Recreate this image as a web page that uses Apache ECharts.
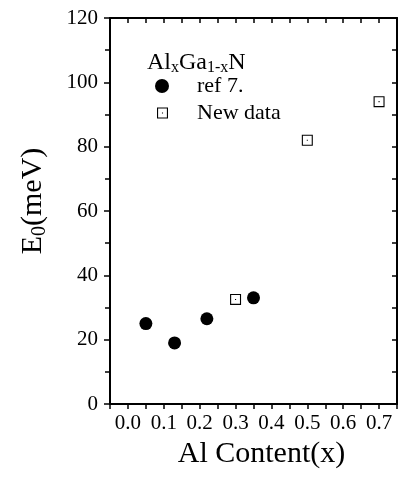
<!DOCTYPE html>
<html>
<head>
<meta charset="utf-8">
<script src="https://cdn.jsdelivr.net/npm/echarts@6/dist/echarts.min.js"></script>
<style>html,body{margin:0;padding:0;background:#fff;}#c{width:400px;height:479px;}</style>
</head>
<body>
<div id="c"></div>
<script>
// Data
const refX = [0.05, 0.13, 0.22, 0.35];
const refY = [25, 19, 26.5, 33];
const newX = [0.30, 0.50, 0.70];
const newY = [32.5, 82, 94];
const xTickLabels = ['0.0', '0.1', '0.2', '0.3', '0.4', '0.5', '0.6', '0.7'];
const yTickLabels = ['0', '20', '40', '60', '80', '100', '120'];

const FONT = "'Liberation Serif', 'Times New Roman', serif";
const squarePath = 'path://M0,0 L10,0 L10,10 L0,10 Z M1,1 L1,9 L9,9 L9,1 Z M4.5,4.5 L5.5,4.5 L5.5,5.5 L4.5,5.5 Z';

const chart = echarts.init(document.getElementById('c'), null, {renderer: 'canvas'});

function xLabel(v) {
  const k = Math.round(v * 100);
  if (k % 10 !== 0) return '';
  const s = (k / 100).toFixed(1);
  return xTickLabels.indexOf(s) >= 0 ? s : '';
}
function yLabel(v) {
  const s = String(Math.round(v));
  return yTickLabels.indexOf(s) >= 0 ? s : '';
}

const axisLine = {show: true, onZero: false, lineStyle: {color: '#000', width: 2}};
const tickStyle = {color: '#000', width: 1.5};

chart.setOption({
  animation: false,
  backgroundColor: '#fff',
  grid: {left: 110, right: 2, top: 18, bottom: 75, containLabel: false},
  xAxis: [{
    type: 'value', position: 'bottom', min: -0.05, max: 0.75, interval: 0.05,
    axisLine: axisLine,
    axisTick: {show: true, inside: false, length: 5, lineStyle: tickStyle},
    axisLabel: {formatter: xLabel, color: '#000', fontFamily: FONT, fontSize: 21, margin: 9, showMinLabel: true, showMaxLabel: true},
    splitLine: {show: false},
    name: 'Al Content(x)', nameLocation: 'middle', nameGap: 30,
    nameTextStyle: {fontFamily: FONT, fontSize: 30, color: '#000', padding: [0, 0, 0, 16]}
  }, {
    type: 'value', position: 'top', min: -0.05, max: 0.75, interval: 0.05,
    axisLine: axisLine,
    axisTick: {show: true, inside: true, length: 5, lineStyle: tickStyle},
    axisLabel: {show: false},
    splitLine: {show: false}
  }],
  yAxis: [{
    type: 'value', position: 'left', min: 0, max: 120, interval: 20,
    axisLine: axisLine,
    axisTick: {show: true, inside: false, length: 6, lineStyle: tickStyle},
    minorTick: {show: true, splitNumber: 2, length: 5, lineStyle: tickStyle},
    axisLabel: {formatter: yLabel, color: '#000', fontFamily: FONT, fontSize: 21, margin: 12},
    splitLine: {show: false},
    name: '{n|E}{s|0}{n|(meV)}', nameLocation: 'middle', nameGap: 60, nameRotate: 90,
    nameTextStyle: {
      fontFamily: FONT, fontSize: 30, color: '#000', padding: [0, 0, 0, 20],
      rich: {
        n: {fontFamily: FONT, fontSize: 30, color: '#000', lineHeight: 32, verticalAlign: 'top'},
        s: {fontFamily: FONT, fontSize: 20, color: '#000', lineHeight: 20, verticalAlign: 'bottom', padding: [18, 0, 0, 0]}
      }
    }
  }, {
    type: 'value', position: 'right', min: 0, max: 120, interval: 20,
    axisLine: axisLine,
    axisTick: {show: true, inside: true, length: 5, lineStyle: tickStyle},
    minorTick: {show: true, splitNumber: 2, length: 5, lineStyle: tickStyle},
    axisLabel: {show: false},
    splitLine: {show: false}
  }],
  legend: [{
    data: [{name: 'ref 7.', icon: 'circle'}],
    left: 155, top: 75, padding: 0, orient: 'vertical',
    itemWidth: 14, itemHeight: 14, selectedMode: false,
    itemStyle: {opacity: 1},
    textStyle: {fontFamily: FONT, fontSize: 22, color: '#000', padding: [0, 0, 0, 23]}
  }, {
    data: [{name: 'New data', icon: squarePath}],
    left: 157, top: 102, padding: 0, orient: 'vertical',
    itemWidth: 11, itemHeight: 11, selectedMode: false,
    itemStyle: {opacity: 1},
    textStyle: {fontFamily: FONT, fontSize: 22, color: '#000', padding: [0, 0, 0, 24]}
  }],
  graphic: [{
    type: 'text', left: 147, top: 41, silent: true,
    style: {
      text: '{n|Al}{s|x}{n|Ga}{s|1-x}{n|N}',
      rich: {
        n: {fontFamily: FONT, fontSize: 24, fill: '#000', lineHeight: 25, verticalAlign: 'top'},
        s: {fontFamily: FONT, fontSize: 16, fill: '#000', lineHeight: 16, verticalAlign: 'bottom', padding: [19, 0, 0, 0]}
      }
    }
  }],
  series: [{
    name: 'ref 7.', type: 'scatter', xAxisIndex: 0, yAxisIndex: 0,
    symbol: 'circle', symbolSize: 13,
    itemStyle: {color: '#000', opacity: 1},
    data: refX.map((x, i) => [x, refY[i]])
  }, {
    name: 'New data', type: 'scatter', xAxisIndex: 0, yAxisIndex: 0,
    symbol: squarePath, symbolSize: 11,
    itemStyle: {color: '#000', opacity: 1},
    data: newX.map((x, i) => [x, newY[i]])
  }]
});
</script>
</body>
</html>
